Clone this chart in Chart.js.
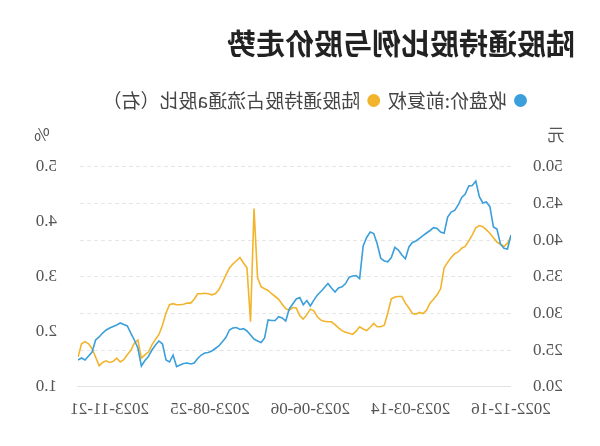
<!DOCTYPE html>
<html>
<head>
<meta charset="utf-8">
<script src="https://cdn.jsdelivr.net/npm/chart.js@4/dist/chart.umd.min.js"></script>
<style>
  html, body { margin: 0; padding: 0; background: #fff; }
  /* 参考图是左右镜像的 */
  #wrap { width: 600px; height: 446px; transform: scaleX(-1); }
</style>
</head>
<body>
<div id="wrap"><canvas id="chart" width="600" height="446"></canvas></div>
<script>
// x 轴日期标签, 以及它们在序列中的位置 (每个点约两个交易日)
const dateLabels = ['2022-12-16', '2023-03-14', '2023-06-06', '2023-08-25', '2023-11-21'];
const dateIndex = [0, 28.5, 57, 85.5, 114];

// 收盘价:前复权 (元)
const closePrice = [
  40.69, 38.78, 38.87, 39.46, 41.5, 41.78, 44.55, 45.19, 45.05, 45.92,
  48.05, 47.44, 47.37, 46.28, 45.8, 44.78, 44.03, 43.82, 43.14, 40.92,
  41.1, 41.57, 41.68, 41.3, 40.96, 40.59, 40.24, 39.87, 39.66, 39.05,
  37.45, 37.96, 38.64, 39.0, 37.62, 37.03, 37.14, 37.51, 39.46, 40.88,
  41.1, 40.35, 39.19, 34.75, 35.16, 35.1, 34.92, 34.07, 33.62, 33.46,
  32.91, 33.46, 34.07, 33.53, 32.98, 32.5, 31.8, 31.0, 31.75, 31.18,
  32.16, 31.96, 31.28, 30.6, 28.96, 29.37, 29.55, 29.03, 29.03, 29.1,
  26.64, 26.03, 26.23, 26.5, 27.05, 27.6, 27.91, 27.8, 28.07, 28.0,
  27.73, 26.71, 26.14, 25.55, 25.21, 24.87, 24.66, 24.6, 24.32, 23.85,
  23.23, 23.1, 23.23, 23.16, 22.96, 22.75, 24.32, 23.37, 23.64, 25.82,
  26.23, 25.69, 25.0, 24.12, 23.57, 22.82, 25.28, 26.37, 27.32, 28.28,
  28.48, 28.69, 28.41, 28.21, 28.0, 27.73, 27.32, 26.78, 26.37, 24.73,
  24.19, 23.64, 23.91, 23.64
];

// 陆股通持股占流通a股比 (%)
const holdRatio = [
  3.73, 3.61, 3.55, 3.59, 3.63, 3.71, 3.79, 3.85, 3.91, 3.93,
  3.89, 3.76, 3.65, 3.55, 3.52, 3.45, 3.42, 3.35, 3.26, 3.16,
  2.78, 2.67, 2.59, 2.52, 2.39, 2.33, 2.35, 2.32, 2.33, 2.43,
  2.52, 2.64, 2.64, 2.63, 2.60, 2.34, 2.12, 2.09, 2.09, 2.15,
  2.08, 2.02, 2.05, 2.09, 2.01, 1.95, 1.97, 1.99, 2.02, 2.07,
  2.13, 2.18, 2.18, 2.19, 2.21, 2.27, 2.38, 2.41, 2.31, 2.23,
  2.29, 2.43, 2.44, 2.39, 2.42, 2.50, 2.59, 2.64, 2.69, 2.75,
  2.78, 2.82, 2.98, 4.24, 2.18, 3.16, 3.25, 3.35, 3.29, 3.23,
  3.16, 3.03, 2.89, 2.76, 2.69, 2.67, 2.69, 2.70, 2.69, 2.69,
  2.59, 2.52, 2.52, 2.50, 2.49, 2.49, 2.51, 2.49, 2.34, 2.12,
  1.95, 1.86, 1.76, 1.63, 1.58, 1.52, 1.85, 1.79, 1.66, 1.58,
  1.49, 1.45, 1.52, 1.46, 1.44, 1.47, 1.44, 1.38, 1.54, 1.69,
  1.78, 1.82, 1.78, 1.54
];

const chartTitle = '陆股通持股比例与股价走势';

const cjk = '"Noto Sans CJK SC", sans-serif';
const serif = '"Liberation Serif", serif';

// 标题 + 坐标轴上方的单位
const extraText = {
  id: 'extraText',
  afterDraw(chart) {
    const c = chart.ctx, a = chart.chartArea;
    c.save();
    c.font = 'bold 29px ' + cjk;
    c.fillStyle = '#222';
    c.textAlign = 'left';
    c.textBaseline = 'middle';
    c.fillText(chartTitle, 25, 44);

    c.font = '17px ' + cjk;
    c.fillStyle = '#555';
    c.textAlign = 'center';
    c.fillText('元', a.left - 45, a.top - 32);
    c.fillText('%', a.right + 36, a.top - 32);
    c.restore();
  }
};

// 图例和绘图区之间留白
const legendGap = {
  id: 'legendGap',
  beforeInit(chart) {
    const fit = chart.legend.fit;
    chart.legend.fit = function() {
      fit.call(this);
      this.height = 85.7;
    };
  }
};

const ctx = document.getElementById('chart').getContext('2d');
new Chart(ctx, {
  type: 'line',
  data: {
    labels: closePrice.map((_, i) => i),
    datasets: [
      {
        label: '收盘价:前复权',
        data: closePrice,
        yAxisID: 'yPrice',
        borderColor: '#3a9fdb',
        backgroundColor: '#3a9fdb',
        borderWidth: 1.6,
        pointRadius: 0,
        tension: 0
      },
      {
        label: '陆股通持股占流通a股比（右）',
        data: holdRatio,
        yAxisID: 'yRatio',
        borderColor: '#f2b42c',
        backgroundColor: '#f2b42c',
        borderWidth: 1.6,
        pointRadius: 0,
        tension: 0
      }
    ]
  },
  options: {
    responsive: false,
    animation: false,
    layout: { padding: { left: 7, right: 34, top: 81, bottom: 0 } },
    scales: {
      x: {
        type: 'linear',
        min: 0,
        max: closePrice.length - 1,
        afterBuildTicks: s => { s.ticks = dateIndex.map(v => ({ value: v })); },
        afterFit: s => { s.height = 59.3; },
        grid: { display: false },
        border: { display: true, color: '#e3e3e3' },
        ticks: {
          autoSkip: false,
          maxRotation: 0,
          padding: 5,
          color: '#555',
          font: { family: serif, size: 17 },
          callback: v => dateLabels[dateIndex.indexOf(v)]
        }
      },
      yPrice: {
        position: 'left',
        min: 20,
        max: 50,
        afterFit: s => { s.width = 82; },
        border: { display: false, dash: [4, 3] },
        grid: { color: '#e6e6e6', drawTicks: false },
        ticks: {
          stepSize: 5,
          padding: 22,
          color: '#555',
          font: { family: serif, size: 17 },
          callback: v => v.toFixed(1)
        }
      },
      yRatio: {
        position: 'right',
        min: 1,
        max: 5,
        afterFit: s => { s.width = 44; },
        border: { display: false },
        grid: { display: false, drawTicks: false },
        ticks: {
          stepSize: 1,
          padding: 21,
          color: '#555',
          font: { family: serif, size: 17 },
          callback: v => v.toFixed(1)
        }
      }
    },
    plugins: {
      title: { display: false },
      legend: {
        position: 'top',
        align: 'center',
        labels: {
          usePointStyle: true,
          pointStyle: 'circle',
          boxWidth: 8,
          boxHeight: 8,
          padding: 10,
          color: '#444',
          font: { family: cjk, size: 19 },
          sort: (a, b) => a.datasetIndex - b.datasetIndex
        }
      },
      tooltip: { enabled: false }
    }
  },
  plugins: [extraText, legendGap]
});
</script>
</body>
</html>
